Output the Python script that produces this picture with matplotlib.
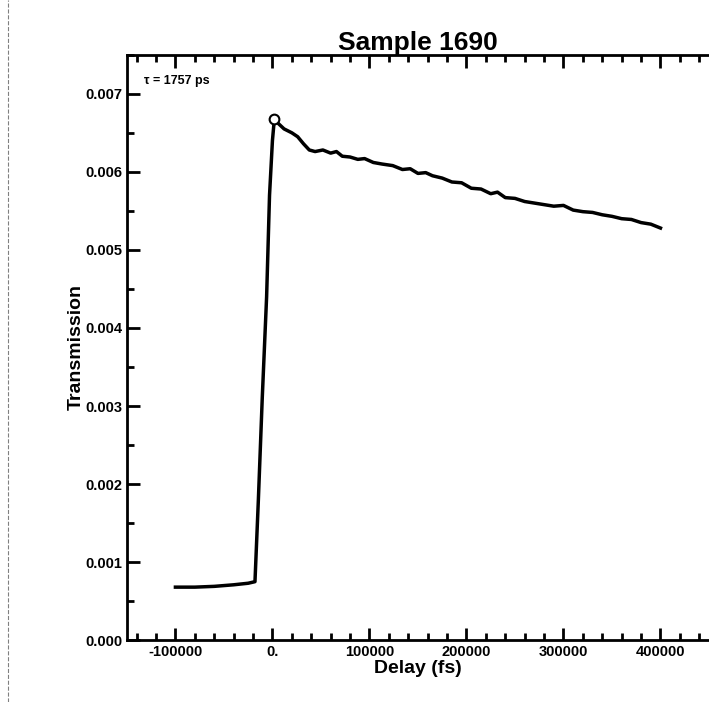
import numpy as np
import matplotlib.pyplot as plt
from matplotlib.ticker import MultipleLocator
from matplotlib.lines import Line2D

plt.rcParams['font.family'] = ['Liberation Sans', 'DejaVu Sans']
plt.rcParams['font.weight'] = 'bold'

# data (delay in fs, transmission)
delay = [-100000, -80000, -60000, -40000, -25000, -18000, -14500, -10500,
         -6000, -3000, 0, 2000, 6000, 12000, 20000, 26000, 32000, 38000,
         44000, 52000, 60000, 66000, 72000, 80000, 88000, 95000, 104000,
         113000, 124000, 134000, 142000, 150000, 158000, 165000, 175000,
         185000, 195000, 205000, 215000, 225000, 232000, 240000, 250000,
         260000, 270000, 280000, 290000, 300000, 310000, 320000, 330000,
         340000, 350000, 360000, 370000, 380000, 390000, 400000]
trans = [0.00068, 0.00068, 0.00069, 0.00071, 0.00073, 0.00075, 0.0018, 0.0031,
         0.0044, 0.0057, 0.0064, 0.00668, 0.00662, 0.00655, 0.0065, 0.00645,
         0.00636, 0.00628, 0.00626, 0.00628, 0.00624, 0.00626, 0.0062, 0.00619,
         0.00616, 0.00617, 0.00612, 0.0061, 0.00608, 0.00603, 0.00604, 0.00598,
         0.00599, 0.00595, 0.00592, 0.00587, 0.00586, 0.00579, 0.00578, 0.00572,
         0.00574, 0.00567, 0.00566, 0.00562, 0.0056, 0.00558, 0.00556, 0.00557,
         0.00551, 0.00549, 0.00548, 0.00545, 0.00543, 0.0054, 0.00539, 0.00535,
         0.00533, 0.00528]

xticks = [-100000, 0, 100000, 200000, 300000, 400000]
xticklabels = ['-100000', '0.', '100000', '200000', '300000', '400000']
yticks = [0.000, 0.001, 0.002, 0.003, 0.004, 0.005, 0.006, 0.007]
yticklabels = ['0.000', '0.001', '0.002', '0.003', '0.004', '0.005', '0.006', '0.007']

fig = plt.figure(figsize=(7.09, 7.02), dpi=100)
ax = fig.add_axes([0.179, 0.088, 0.821, 0.834])

ax.plot(delay, trans, color='black', linewidth=2.5)
ax.plot([2000], [0.00668], marker='o', mfc='white', mec='black', ms=7, mew=1.5)

ax.set_xlim(-150000, 450000)
ax.set_ylim(0.0, 0.0075)
ax.set_xticks(xticks)
ax.set_xticklabels(xticklabels)
ax.set_yticks(yticks)
ax.set_yticklabels(yticklabels)
ax.xaxis.set_minor_locator(MultipleLocator(20000))
ax.yaxis.set_minor_locator(MultipleLocator(0.0005))
ax.tick_params(which='both', direction='in', top=True, right=False, width=2)
ax.tick_params(which='major', length=9, labelsize=10.5)
ax.tick_params(which='minor', length=5)
ax.spines['right'].set_visible(False)
for s in ['left', 'bottom', 'top']:
    ax.spines[s].set_linewidth(2)

ax.set_title('Sample 1690', fontsize=19, fontweight='heavy', pad=2)
ax.set_xlabel('Delay (fs)', fontsize=14, fontweight='bold', labelpad=1)
ax.set_ylabel('Transmission', fontsize=14, fontweight='bold', labelpad=0)
ax.text(0.03, 0.955, 'τ = 1757 ps', transform=ax.transAxes, fontsize=9,
        fontweight='bold', va='center')

# scan border on the left
fig.add_artist(Line2D([0.011, 0.011], [0.0, 1.0], transform=fig.transFigure,
                      color='gray', linewidth=0.8, linestyle='--'))

fig.savefig('out.png', dpi=100)
